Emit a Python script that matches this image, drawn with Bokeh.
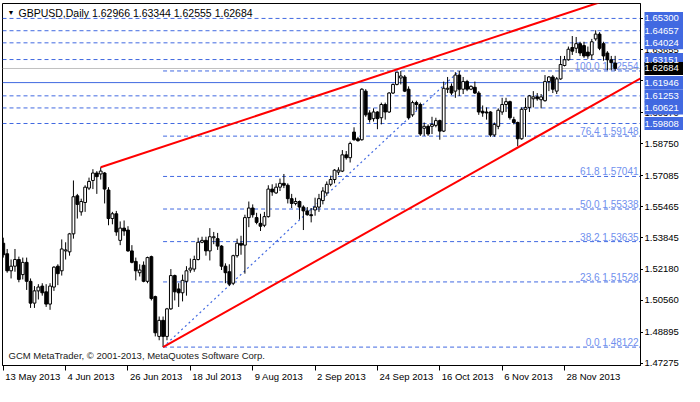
from bokeh.plotting import figure
from bokeh.layouts import row
from bokeh.models import (ColumnDataSource, Range1d, FixedTicker, Label, LinearAxis)
from bokeh.embed import file_html
from bokeh.resources import INLINE
from bokeh.core.properties import value

# ---------------- data (GBPUSD daily, bar index 0 = 13 May 2013) ----------------
opens = [1.5355, 1.5300, 1.5211, 1.5235, 1.5270, 1.5191, 1.5255, 1.5156, 1.5042, 1.5106,
         1.5131, 1.5101, 1.5037, 1.5126, 1.5235, 1.5211, 1.5315, 1.5310, 1.5404, 1.5603,
         1.5519, 1.5568, 1.5643, 1.5683, 1.5722, 1.5717, 1.5722, 1.5633, 1.5484, 1.5509,
         1.5370, 1.5434, 1.5424, 1.5315, 1.5260, 1.5201, 1.5240, 1.5156, 1.5285, 1.5076,
         1.4868, 1.4952, 1.4868, 1.5012, 1.5186, 1.5116, 1.5096, 1.5156, 1.5215, 1.5220,
         1.5270, 1.5360, 1.5370, 1.5315, 1.5384, 1.5379, 1.5340, 1.5235, 1.5206, 1.5146,
         1.5290, 1.5355, 1.5345, 1.5489, 1.5539, 1.5489, 1.5459, 1.5449, 1.5494, 1.5638,
         1.5618, 1.5648, 1.5668, 1.5658, 1.5588, 1.5563, 1.5573, 1.5544, 1.5524, 1.5504,
         1.5529, 1.5544, 1.5578, 1.5618, 1.5663, 1.5688, 1.5727, 1.5732, 1.5817, 1.5802,
         1.5936, 1.5901, 1.5896, 1.6150, 1.6036, 1.6006, 1.6041, 1.6011, 1.6080, 1.6041,
         1.6140, 1.6185, 1.6219, 1.6224, 1.6160, 1.6026, 1.6090, 1.6080, 1.5956, 1.5966,
         1.5966, 1.5971, 1.5996, 1.5941, 1.6160, 1.6175, 1.6150, 1.6234, 1.6160, 1.6200,
         1.6160, 1.6170, 1.6140, 1.6045, 1.6041, 1.6041, 1.5921, 1.5966, 1.6041, 1.6080,
         1.6095, 1.6001, 1.5986, 1.5901, 1.6055, 1.6065, 1.6110, 1.6120, 1.6105, 1.6100,
         1.6200, 1.6224, 1.6150, 1.6214, 1.6284, 1.6314, 1.6378, 1.6374, 1.6398, 1.6388,
         1.6354, 1.6339, 1.6423, 1.6448, 1.6398, 1.6349, 1.6314, 1.62966]
highs = [1.5384, 1.5325, 1.5270, 1.5325, 1.5285, 1.5280, 1.5280, 1.5171, 1.5131, 1.5141,
         1.5146, 1.5141, 1.5146, 1.5235, 1.5245, 1.5375, 1.5360, 1.5409, 1.5683, 1.5613,
         1.5588, 1.5658, 1.5698, 1.5742, 1.5732, 1.5752, 1.5727, 1.5648, 1.5519, 1.5524,
         1.5469, 1.5474, 1.5444, 1.5345, 1.5280, 1.5245, 1.5260, 1.5285, 1.5290, 1.5081,
         1.4972, 1.4972, 1.5017, 1.5220, 1.5191, 1.5146, 1.5191, 1.5235, 1.5275, 1.5290,
         1.5384, 1.5389, 1.5389, 1.5434, 1.5414, 1.5409, 1.5345, 1.5250, 1.5245, 1.5295,
         1.5379, 1.5394, 1.5504, 1.5573, 1.5558, 1.5514, 1.5509, 1.5519, 1.5658, 1.5663,
         1.5668, 1.5693, 1.5717, 1.5668, 1.5613, 1.5593, 1.5578, 1.5553, 1.5544, 1.5539,
         1.5593, 1.5613, 1.5648, 1.5678, 1.5708, 1.5742, 1.5752, 1.5842, 1.5837, 1.5886,
         1.5961, 1.5911, 1.6165, 1.6160, 1.6050, 1.6060, 1.6045, 1.6090, 1.6090, 1.6145,
         1.6190, 1.6250, 1.6255, 1.6234, 1.6175, 1.6100, 1.6100, 1.6090, 1.5986, 1.5976,
         1.6016, 1.6011, 1.6001, 1.6200, 1.6224, 1.6190, 1.6249, 1.62554, 1.6224, 1.6209,
         1.6180, 1.6200, 1.6150, 1.6075, 1.6065, 1.6045, 1.5986, 1.6060, 1.6115, 1.6115,
         1.6100, 1.6016, 1.5991, 1.6065, 1.6115, 1.6130, 1.6150, 1.6140, 1.6135, 1.6234,
         1.6229, 1.6234, 1.6224, 1.6334, 1.6334, 1.6383, 1.6438, 1.6433, 1.6408, 1.6408,
         1.6383, 1.6423, 1.6468, 1.6458, 1.6408, 1.6359, 1.6334, 1.63344]
lows = [1.5280, 1.5201, 1.5171, 1.5206, 1.5151, 1.5166, 1.5111, 1.5017, 1.5017, 1.5061,
        1.5081, 1.5022, 1.5007, 1.5106, 1.5136, 1.5186, 1.5270, 1.5290, 1.5379, 1.5484,
        1.5499, 1.5519, 1.5633, 1.5638, 1.5613, 1.5688, 1.5563, 1.5449, 1.5454, 1.5394,
        1.5345, 1.5394, 1.5310, 1.5250, 1.5161, 1.5181, 1.5151, 1.5146, 1.5056, 1.4868,
        1.4848, 1.48122, 1.4848, 1.5007, 1.5056, 1.5022, 1.5051, 1.5081, 1.5201, 1.5206,
        1.5265, 1.5355, 1.5290, 1.5265, 1.5350, 1.5320, 1.5215, 1.5146, 1.5131, 1.5136,
        1.5280, 1.5295, 1.5196, 1.5439, 1.5489, 1.5454, 1.5419, 1.5439, 1.5489, 1.5603,
        1.5613, 1.5628, 1.5643, 1.5563, 1.5539, 1.5553, 1.5479, 1.5424, 1.5499, 1.5464,
        1.5499, 1.5519, 1.5558, 1.5603, 1.5653, 1.5668, 1.5712, 1.5727, 1.5792, 1.5777,
        1.5891, 1.5886, 1.5891, 1.6016, 1.5986, 1.5991, 1.5951, 1.5976, 1.6001, 1.6036,
        1.6135, 1.6180, 1.6185, 1.6145, 1.6001, 1.6016, 1.6050, 1.5916, 1.5916, 1.5916,
        1.5926, 1.5961, 1.5896, 1.5936, 1.6140, 1.6130, 1.6115, 1.6125, 1.6135, 1.6150,
        1.6155, 1.6135, 1.6026, 1.6016, 1.6001, 1.5911, 1.5911, 1.5951, 1.6026, 1.6041,
        1.6001, 1.5976, 1.5862, 1.5896, 1.5911, 1.6041, 1.6065, 1.6100, 1.6060, 1.6095,
        1.6150, 1.6140, 1.6135, 1.6209, 1.6279, 1.6309, 1.6339, 1.6349, 1.6334, 1.6324,
        1.6319, 1.6314, 1.6413, 1.6364, 1.6309, 1.6259, 1.6259, 1.62555]
closes = [1.5295, 1.5211, 1.5235, 1.5270, 1.5166, 1.5255, 1.5156, 1.5042, 1.5106, 1.5126,
          1.5096, 1.5037, 1.5131, 1.5230, 1.5196, 1.5325, 1.5320, 1.5404, 1.5598, 1.5558,
          1.5573, 1.5648, 1.5678, 1.5722, 1.5703, 1.5732, 1.5638, 1.5484, 1.5509, 1.5414,
          1.5434, 1.5419, 1.5315, 1.5255, 1.5211, 1.5215, 1.5156, 1.5280, 1.5066, 1.4887,
          1.4952, 1.4868, 1.5012, 1.5186, 1.5101, 1.5096, 1.5161, 1.5211, 1.5225, 1.5270,
          1.5360, 1.5370, 1.5315, 1.5389, 1.5389, 1.5340, 1.5235, 1.5201, 1.5141, 1.5290,
          1.5355, 1.5345, 1.5489, 1.5539, 1.5504, 1.5464, 1.5444, 1.5494, 1.5638, 1.5623,
          1.5648, 1.5668, 1.5658, 1.5588, 1.5563, 1.5573, 1.5544, 1.5524, 1.5504, 1.5499,
          1.5544, 1.5588, 1.5628, 1.5663, 1.5688, 1.5737, 1.5737, 1.5817, 1.5802, 1.5876,
          1.5896, 1.5891, 1.6160, 1.6026, 1.6001, 1.6041, 1.6006, 1.6080, 1.6041, 1.6140,
          1.6185, 1.6249, 1.6229, 1.6150, 1.6011, 1.6090, 1.6080, 1.5926, 1.5966, 1.5926,
          1.5976, 1.5996, 1.5941, 1.6165, 1.6165, 1.6140, 1.6234, 1.6160, 1.6200, 1.6160,
          1.6175, 1.6140, 1.6041, 1.6036, 1.6036, 1.5921, 1.5976, 1.6050, 1.6080, 1.6095,
          1.6011, 1.5986, 1.5901, 1.6055, 1.6065, 1.6125, 1.6120, 1.6110, 1.6120, 1.6200,
          1.6224, 1.6160, 1.6214, 1.6289, 1.6314, 1.6369, 1.6359, 1.6398, 1.6349, 1.6334,
          1.6334, 1.6408, 1.6448, 1.6374, 1.6334, 1.6314, 1.6299, 1.62684]

date_tick_bars = [0, 16, 32, 48, 64, 80, 96, 112, 128, 144]
date_tick_labels = ["13 May 2013", "4 Jun 2013", "26 Jun 2013", "18 Jul 2013", "9 Aug 2013",
                    "2 Sep 2013", "24 Sep 2013", "16 Oct 2013", "6 Nov 2013", "28 Nov 2013"]
price_ticks = [1.47275, 1.48895, 1.50560, 1.52180, 1.53845, 1.55465, 1.57085,
               1.58750, 1.60370, 1.62035, 1.63655, 1.65320]

dashed_levels = [1.65300, 1.64657, 1.64024, 1.63151, 1.61253, 1.60621, 1.59808]
solid_level = 1.61946
bid_price = 1.62684

fib_ratios = ["0.0", "23.6", "38.2", "50.0", "61.8", "76.4", "100.0"]
fib_prices = [1.48122, 1.51528, 1.53635, 1.55338, 1.57041, 1.59148, 1.62554]
fib_start_bar = 41
fib_end_bar = 117

upper_trend_bars = [25, 160]
upper_trend_prices = [1.5752, 1.6661]
lower_trend_bars = [41, 164]
lower_trend_prices = [1.48122, 1.6222]

symbol_title = "GBPUSD,Daily  1.62966 1.63344 1.62555 1.62684"
copyright_text = "GCM MetaTrader, \u00a9 2001-2013, MetaQuotes Software Corp."

# ---------------- main chart ----------------
X0, X1 = -0.2, 163.5
Y0, Y1 = 1.4716, 1.6608
FONT = "Liberation Sans"
BLUE = "#4169E1"
FIBC = "#7090EE"
FRAME_W, FRAME_H = 638, 362
AX_FS = 9.5
yr = Range1d(Y0, Y1)

p = figure(frame_width=FRAME_W, frame_height=FRAME_H, x_range=Range1d(X0, X1), y_range=yr,
           y_axis_location="right", output_backend="svg", toolbar_location=None,
           min_border_left=2, min_border_top=3, min_border_right=0, min_border_bottom=0)
p.grid.visible = False
p.outline_line_color = "black"
p.outline_line_width = 1
p.background_fill_color = "white"
p.border_fill_color = "white"

# bottom axis: tick marks at the dates (labels come from the axis below it)
xa = p.xaxis[0]
xa.ticker = FixedTicker(ticks=date_tick_bars)
xa.major_label_text_color = None
xa.major_label_text_font_size = "1px"
xa.major_label_standoff = 0
xa.major_tick_in = 0
xa.major_tick_out = 5
xa.minor_tick_line_color = None
xa.axis_line_color = "black"

def text_width(s, fs):
    w = {" ": .278, "M": .833, "J": .5, "A": .667, "S": .667, "O": .778, "N": .722,
         "y": .5, "l": .222, "t": .278, "c": .5, "v": .5}
    return fs * sum(w.get(ch, .556) for ch in s)

px_per_bar = FRAME_W / (X1 - X0)
label_centres = [round(b + (2 + text_width(t, AX_FS) / 2) / px_per_bar, 2)
                 for b, t in zip(date_tick_bars, date_tick_labels)]
xl = LinearAxis(ticker=FixedTicker(ticks=label_centres),
                major_label_overrides={c: t for c, t in zip(label_centres, date_tick_labels)},
                major_tick_in=0, major_tick_out=0, minor_tick_line_color=None,
                axis_line_color=None, major_label_standoff=0,
                major_label_text_font=FONT, major_label_text_font_size=f"{AX_FS}px",
                major_label_text_color="black")
p.add_layout(xl, "below")

# right axis: tick marks only (the price scale texts are drawn in the side panel)
ya = p.yaxis[0]
ya.ticker = FixedTicker(ticks=price_ticks)
ya.major_label_text_color = None
ya.major_label_text_font_size = "1px"
ya.major_label_standoff = 0
ya.major_tick_in = 0
ya.major_tick_out = 3
ya.minor_tick_line_color = None
ya.axis_line_color = "black"

# horizontal level lines
p.segment(x0=[X0] * len(dashed_levels), x1=[X1] * len(dashed_levels), y0=dashed_levels, y1=dashed_levels,
          line_color=BLUE, line_width=1, line_dash="4 3")
p.segment(x0=[X0], x1=[X1], y0=[solid_level], y1=[solid_level], line_color=BLUE, line_width=1)
p.segment(x0=[X0], x1=[X1], y0=[bid_price], y1=[bid_price], line_color="#C0C0C0", line_width=1)

# fibonacci
p.segment(x0=[fib_start_bar] * len(fib_prices), x1=[X1] * len(fib_prices),
          y0=fib_prices, y1=fib_prices, line_color=BLUE, line_width=1, line_dash="4 3")
p.line(x=[fib_start_bar, fib_end_bar], y=[fib_prices[0], fib_prices[-1]],
       line_color=BLUE, line_width=1.2, line_dash="2 3")
fib_src = ColumnDataSource(dict(x=[X1] * len(fib_prices), y=fib_prices,
                                t=[f"{r} {v:.5f}" for r, v in zip(fib_ratios, fib_prices)]))
p.text(x="x", y="y", text="t", source=fib_src, text_align="right", text_baseline="bottom",
       x_offset=-2, y_offset=1, text_color=FIBC, text_font=value(FONT), text_font_size="10px")

# candles
idx = list(range(len(closes)))
inc = [i for i in idx if closes[i] >= opens[i]]
dec = [i for i in idx if closes[i] < opens[i]]
p.segment(x0=idx, x1=idx, y0=lows, y1=highs, line_color="black", line_width=1)
p.vbar(x=inc, width=0.72, top=[closes[i] for i in inc], bottom=[opens[i] for i in inc],
       fill_color="white", line_color="black", line_width=1)
p.vbar(x=dec, width=0.72, top=[opens[i] for i in dec], bottom=[closes[i] for i in dec],
       fill_color="black", line_color="black", line_width=1)

# trend lines
p.line(x=upper_trend_bars, y=upper_trend_prices, line_color="#FF0000", line_width=2)
p.line(x=lower_trend_bars, y=lower_trend_prices, line_color="#FF0000", line_width=2)

# texts inside the chart
p.add_layout(Label(x=X0, y=Y1, x_offset=5, y_offset=-5, text="\u25bc", text_font=FONT,
                   text_font_size="7px", text_color="black", text_baseline="top"))
p.add_layout(Label(x=X0, y=Y1, x_offset=16, y_offset=-3, text=symbol_title, text_font=FONT,
                   text_font_size="10.5px", text_color="black", text_baseline="top"))
p.add_layout(Label(x=X0, y=Y0, x_offset=6, y_offset=5, text=copyright_text, text_font=FONT,
                   text_font_size="9.5px", text_color="#202020", text_baseline="bottom"))

# ---------------- price scale panel (same price scale, a little taller at the bottom) ----------------
SCALE_W = 40
EXTRA = 12
s_y0 = Y0 - EXTRA * (Y1 - Y0) / FRAME_H
s = figure(frame_width=SCALE_W, frame_height=FRAME_H + EXTRA, x_range=Range1d(0, SCALE_W),
           y_range=Range1d(s_y0, Y1),
           x_axis_location=None, y_axis_location=None, output_backend="svg",
           toolbar_location=None, min_border_left=0, min_border_right=0,
           min_border_top=3, min_border_bottom=0)
s.grid.visible = False
s.outline_line_color = None
s.background_fill_color = "white"
s.border_fill_color = "white"

s.text(x=[1] * len(price_ticks), y=price_ticks, text=[f"{v:.5f}" for v in price_ticks],
       text_baseline="middle", text_align="left", text_color="black",
       text_font=value(FONT), text_font_size="9.5px")

box_levels = dashed_levels[:4] + [solid_level] + dashed_levels[4:]
s.rect(x=[SCALE_W / 2 + 0.5] * len(box_levels), y=box_levels, width=SCALE_W - 1, height=13,
       height_units="screen", fill_color=BLUE, line_color=None)
s.rect(x=[SCALE_W / 2 + 0.5], y=[bid_price], width=SCALE_W - 1, height=13,
       height_units="screen", fill_color="black", line_color=None)
s.text(x=[1] * (len(box_levels) + 1), y=box_levels + [bid_price],
       text=[f"{v:.5f}" for v in box_levels + [bid_price]],
       text_baseline="middle", text_align="left", text_color="white",
       text_font=value(FONT), text_font_size="9.5px")

layout = row(p, s)
open("out.html", "w").write(file_html(layout, INLINE))
